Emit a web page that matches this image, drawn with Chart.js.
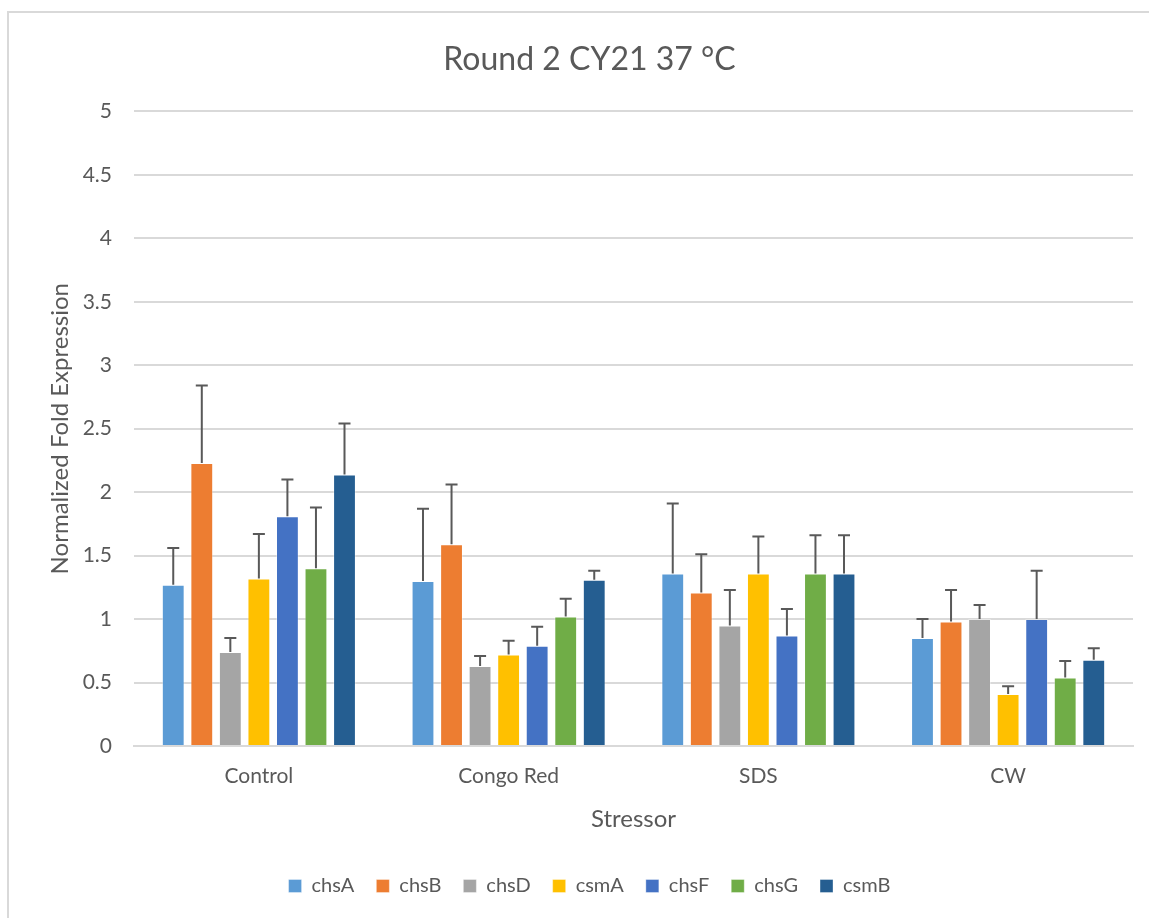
<!DOCTYPE html>
<html>
<head>
<meta charset="utf-8">
<script src="https://cdn.jsdelivr.net/npm/chart.js@4.4.1/dist/chart.umd.min.js"></script>
<style>
  html, body { margin: 0; padding: 0; background: #fff; }
  #frame {
    position: absolute; left: 7px; top: 11px; width: 1160px; height: 920px;
    border-left: 2px solid #d9d9d9; border-top: 2px solid #d9d9d9;
  }
  #wrap { position: absolute; left: 0; top: 0; width: 1149px; height: 918px; }
</style>
</head>
<body>
<div id="frame"></div>
<div id="wrap"><canvas id="chart"></canvas></div>
<script>
const stressors = ["Control", "Congo Red", "SDS", "CW"];
const genes = ["chsA", "chsB", "chsD", "csmA", "chsF", "chsG", "csmB"];
const colors = ["#5b9bd5", "#ed7d31", "#a5a5a5", "#ffc000", "#4472c4", "#70ad47", "#255e91"];

// mean fold expression per gene, one value per stressor
const chsA = [1.27, 1.30, 1.36, 0.85];
const chsB = [2.23, 1.59, 1.21, 0.98];
const chsD = [0.74, 0.63, 0.95, 1.00];
const csmA = [1.32, 0.72, 1.36, 0.41];
const chsF = [1.81, 0.79, 0.87, 1.00];
const chsG = [1.40, 1.02, 1.36, 0.54];
const csmB = [2.14, 1.31, 1.36, 0.68];

// upper error (added on top of the bar)
const chsAErr = [0.29, 0.57, 0.55, 0.15];
const chsBErr = [0.61, 0.47, 0.30, 0.25];
const chsDErr = [0.11, 0.08, 0.28, 0.11];
const csmAErr = [0.35, 0.11, 0.29, 0.06];
const chsFErr = [0.29, 0.15, 0.21, 0.38];
const chsGErr = [0.48, 0.14, 0.30, 0.13];
const csmBErr = [0.40, 0.07, 0.30, 0.09];

const values = [chsA, chsB, chsD, csmA, chsF, chsG, csmB];
const errors = [chsAErr, chsBErr, chsDErr, csmAErr, chsFErr, chsGErr, csmBErr];

const fontFamily = "Lato, 'Open Sans', sans-serif";
const textColor = "#595959";

// draws the upper error whiskers on top of each bar
const errorBars = {
  id: "errorBars",
  afterDatasetsDraw(chart) {
    const ctx = chart.ctx;
    const y = chart.scales.y;
    ctx.save();
    ctx.strokeStyle = "#595959";
    ctx.lineWidth = 2;
    chart.data.datasets.forEach((ds, i) => {
      const meta = chart.getDatasetMeta(i);
      meta.data.forEach((bar, j) => {
        const top = y.getPixelForValue(ds.data[j] + ds.errors[j]);
        ctx.beginPath();
        ctx.moveTo(bar.x, bar.y);
        ctx.lineTo(bar.x, top);
        ctx.moveTo(bar.x - 6, top);
        ctx.lineTo(bar.x + 6, top);
        ctx.stroke();
      });
    });
    ctx.restore();
  },
};

const ctx = document.getElementById("chart").getContext("2d");
new Chart(ctx, {
  type: "bar",
  data: {
    labels: stressors,
    datasets: genes.map((g, i) => ({
      label: g,
      data: values[i],
      errors: errors[i],
      backgroundColor: colors[i],
      borderColor: "rgba(255,255,255,0.35)",
      borderWidth: 1,
      categoryPercentage: 0.8,
      barPercentage: 0.8,
    })),
  },
  options: {
    responsive: true,
    maintainAspectRatio: false,
    animation: false,
    layout: { padding: { left: 46, right: 16, top: 0, bottom: 12 } },
    scales: {
      x: {
        grid: { display: false },
        border: { color: "#d9d9d9", width: 2 },
        ticks: { color: textColor, font: { family: fontFamily, size: 21 }, padding: 10 },
        title: {
          display: true,
          text: "Stressor",
          color: textColor,
          font: { family: fontFamily, size: 24 },
          padding: { top: 6, bottom: 20 },
        },
      },
      y: {
        min: 0,
        max: 5,
        ticks: {
          stepSize: 0.5,
          color: textColor,
          font: { family: fontFamily, size: 21 },
          padding: 22,
          callback: (v) => String(Number(v)),
        },
        grid: { color: "#d9d9d9", lineWidth: 2, drawTicks: false },
        border: { display: false },
        title: {
          display: true,
          text: "Normalized Fold Expression",
          color: textColor,
          font: { family: fontFamily, size: 24 },
          padding: { top: 0, bottom: 6 },
        },
        afterFit(scale) { scale.width = 88; },
      },
    },
    plugins: {
      title: {
        display: true,
        text: "Round 2 CY21 37 °C",
        color: textColor,
        font: { family: fontFamily, size: 32, weight: "normal" },
        padding: { top: 40, bottom: 33 },
      },
      legend: {
        position: "bottom",
        labels: {
          color: textColor,
          font: { family: fontFamily, size: 20 },
          boxWidth: 13,
          boxHeight: 13,
          padding: 22,
        },
      },
      tooltip: { enabled: false },
    },
  },
  plugins: [errorBars],
});
</script>
</body>
</html>
